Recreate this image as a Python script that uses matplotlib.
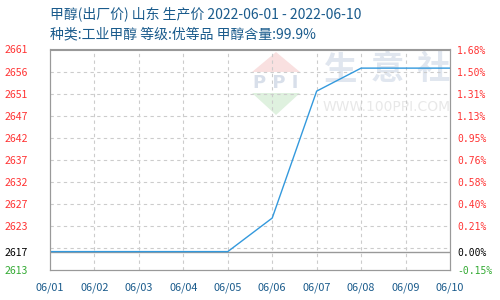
import matplotlib.pyplot as plt
from matplotlib.patches import Polygon

plt.rcParams['font.family'] = ['Noto Sans CJK SC', 'DejaVu Sans']

# data
dates = ["06/01", "06/02", "06/03", "06/04", "06/05",
         "06/06", "06/07", "06/08", "06/09", "06/10"]
prices = [2617, 2617, 2617, 2617, 2617, 2624.3, 2651.9, 2656.9, 2656.9, 2656.9]

title1 = "甲醇(出厂价) 山东 生产价 2022-06-01 - 2022-06-10"
title2 = "种类:工业甲醇 等级:优等品 甲醇含量:99.9%"

# axis limits
y_low = 2613.0
y_high = 2660.95

base = prices[0]
levels = [y_low + (y_high - y_low) * k / 10 for k in range(11)]

fig = plt.figure(figsize=(5, 3), dpi=100)
ax = fig.add_axes([0.1, 0.1, 0.8, 0.735])
x = list(range(len(dates)))
ax.set_xlim(0, len(dates) - 1)
ax.set_ylim(y_low, y_high)

# watermark
wm = fig.add_axes([0, 0, 1, 1], zorder=-1)
wm.set_xlim(0, 500)
wm.set_ylim(300, 0)
wm.axis("off")
ax.patch.set_alpha(0)
wm.add_patch(Polygon([[252, 72], [276, 52], [300, 72]], closed=True, color="#f9e0e0", lw=0))
wm.add_patch(Polygon([[252, 93], [276, 115], [300, 93]], closed=True, color="#dff1df", lw=0))
wm.text(276, 83, "P P I", fontsize=13, color="#d8dfea", ha="center", va="center",
        family="DejaVu Sans", fontweight="bold")
for cx, ch in zip([341, 387, 433], "生意社"):
    wm.text(cx, 70, ch, fontsize=24, color="#e0e6ef", ha="center", va="center",
            fontweight="bold")
wm.text(387, 107, "WWW.100PPI.COM", fontsize=10, color="#e8e8e8", ha="center",
        va="center", family="DejaVu Sans")

# grid
for i in x[1:-1]:
    ax.axvline(i, color="#cccccc", lw=0.8, ls=(0, (3, 3)), zorder=1)
for v in levels[1:-1]:
    ax.axhline(v, color="#cccccc", lw=0.8, ls=(0, (3, 3)), zorder=1)
ax.axhline(base, color="#999999", lw=1, zorder=2)

ax.plot(x, prices, color="#3399dd", lw=1, zorder=3)

for s in ax.spines.values():
    s.set_color("#999999")

ticks = [levels[0], base] + levels[2:]
ax.set_yticks(ticks)
ax.set_yticklabels([f"{v:.0f}" for v in ticks])
ax.set_xticks(x)
ax.set_xticklabels(dates)
ax.tick_params(axis="y", length=0, pad=16, labelsize=7.5)
ax.tick_params(axis="x", length=0, pad=9, labelsize=7.8, labelcolor="#1a5b8c")


def col(v):
    if abs(v - base) < 1e-9:
        return "black"
    return "#ff3333" if v > base else "#33aa33"


for lbl, v in zip(ax.get_yticklabels(), ticks):
    lbl.set_color(col(v))

axr = ax.twinx()
axr.set_ylim(y_low, y_high)
axr.set_yticks(ticks)
axr.set_yticklabels([f"{(v / base - 1) * 100:.2f}%" for v in ticks],
                    family="DejaVu Sans Mono")
axr.tick_params(axis="y", length=0, pad=5, labelsize=7)
for lbl, v in zip(axr.get_yticklabels(), ticks):
    lbl.set_color(col(v))
for s in axr.spines.values():
    s.set_color("#999999")

fig.text(0.1, 1 - 14 / 300, title1, fontsize=10, color="#1a5b8c", va="center")
fig.text(0.1, 1 - 34 / 300, title2, fontsize=10, color="#1a5b8c", va="center")

fig.savefig("out.png", dpi=100)
